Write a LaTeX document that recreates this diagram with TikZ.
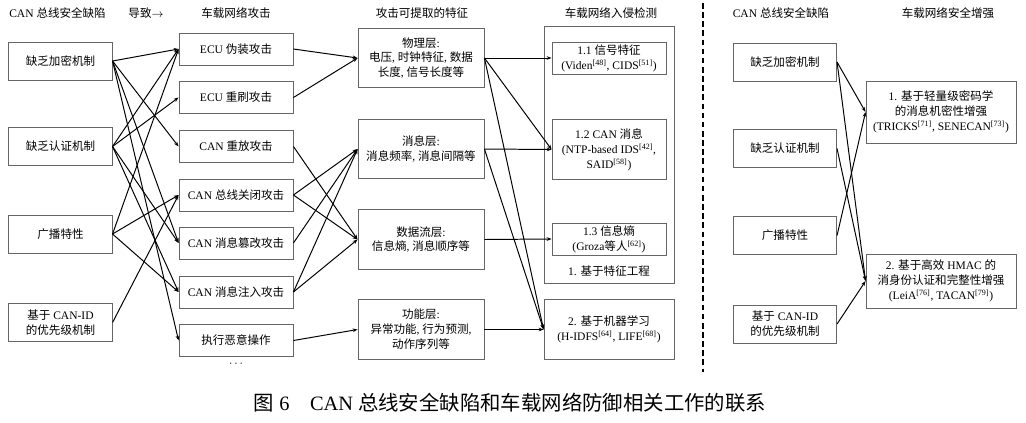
\documentclass[tikz,border=0pt]{standalone}
\usepackage{fontspec}
\setmainfont{Liberation Serif}
\newfontfamily\cjkfont{Noto Sans CJK SC}
\usetikzlibrary{arrows.meta}

% Chinese characters switch to the CJK family by themselves
\newXeTeXintercharclass\CJKclass
\count255="4E00
\loop\XeTeXcharclass\count255=\CJKclass
\ifnum\count255<"9FFF \advance\count255 by 1 \repeat
\count255="3000
\loop\XeTeXcharclass\count255=\CJKclass
\ifnum\count255<"303F \advance\count255 by 1 \repeat
\XeTeXinterchartoks 0 \CJKclass = {\cjkfont}
\XeTeXinterchartoks 4095 \CJKclass = {\cjkfont}
\XeTeXinterchartoks \CJKclass 0 = {\rmfamily}
\XeTeXinterchartoks \CJKclass 4095 = {\rmfamily}
\XeTeXinterchartokenstate=1

\newcommand{\refno}[1]{\textsuperscript{[#1]}}

\begin{document}
\begin{tikzpicture}[x=0.025cm,y=-0.025cm,
            font=\fontsize{8.2}{10.6}\selectfont,
            box/.style={rectangle,draw=black!60,line width=0.6pt,
                    inner sep=1pt,align=center},
            defect/.style={box,minimum width=2.58cm,minimum height=0.95cm},
            attack/.style={box,minimum width=2.85cm,minimum height=0.8cm},
            feature/.style={box,minimum width=3.15cm,minimum height=1.48cm},
            ids/.style={box,minimum width=2.85cm,minimum height=0.8cm},
            enhance/.style={box,minimum width=3.75cm},
            head/.style={inner sep=0pt},
            link/.style={-{Stealth[length=3.5pt,width=2.6pt]},line width=0.7pt},
        ]
        \useasboundingbox (0,0) rectangle (1026,422);

        % Headers
        \node[head] (h1) at (57.5,13) {CAN 总线安全缺陷};
        \node[head] (h2) at (146,13) {导致$\rightarrow$};
        \node[head] (h3) at (236,13) {车载网络攻击};
        \node[head] (h4) at (422,13) {攻击可提取的特征};
        \node[head] (h5) at (611,13) {车载网络入侵检测};
        \node[head] (h6) at (781,13) {CAN 总线安全缺陷};
        \node[head] (h7) at (948,13) {车载网络安全增强};

        % CAN bus defects
        \node[defect] (enc) at (60.5,61) {缺乏加密机制};
        \node[defect] (auth) at (60.5,146.5) {缺乏认证机制};
        \node[defect] (bcast) at (60.5,234) {广播特性};
        \node[defect] (prio) at (60.5,322.5) {基于 CAN-ID\\的优先级机制};

        % Attacks
        \node[attack] (masq) at (236,49) {ECU 伪装攻击};
        \node[attack] (flash) at (236,97.5) {ECU 重刷攻击};
        \node[attack] (replay) at (236,146.5) {CAN 重放攻击};
        \node[attack] (busoff) at (236,195) {CAN 总线关闭攻击};
        \node[attack] (tamper) at (236,243) {CAN 消息篡改攻击};
        \node[attack] (inject) at (236,292) {CAN 消息注入攻击};
        \node[attack] (malop) at (236,340.5) {执行恶意操作};
        \node[head] (more) at (236,364) {$\cdots$};

        % Extractable features
        \node[feature] (phys) at (421,58) {物理层:\\电压, 时钟特征, 数据\\长度, 信号长度等};
        \node[feature] (msg) at (421,149) {消息层:\\消息频率, 消息间隔等};
        \node[feature] (flow) at (421,239.5) {数据流层:\\信息熵, 消息顺序等};
        \node[feature] (func) at (421,329.5) {功能层:\\异常功能, 行为预测,\\动作序列等};

        % Intrusion detection
        \draw[black!60,line width=0.6pt] (544,26) rectangle (674,283);
        \node[ids] (sig) at (609,58) {1.1 信号特征\\(Viden\refno{48}, CIDS\refno{51})};
        \node[ids,minimum height=1.48cm] (canmsg) at (609,149.5) {1.2 CAN 消息\\(NTP-based IDS\refno{42},\\SAID\refno{58})};
        \node[ids] (entropy) at (609,239) {1.3 信息熵\\(Groza等人\refno{62})};
        \node[head] (feng) at (609,271) {1. 基于特征工程};
        \node[box,minimum width=3.25cm,minimum height=1.48cm] (ml) at (609,329.5) {2. 基于机器学习\\(H-IDFS\refno{64}, LIFE\refno{68})};

        % Separator
        \draw[line width=1.3pt,dash pattern=on 4pt off 2.5pt] (703,3) -- (703,372);

        % Right part: defects and enhancements
        \node[defect] (renc) at (785,62) {缺乏加密机制};
        \node[defect] (rauth) at (785,148.5) {缺乏认证机制};
        \node[defect] (rbcast) at (785,235.5) {广播特性};
        \node[defect] (rprio) at (785,324) {基于 CAN-ID\\的优先级机制};
        \node[enhance,minimum height=1.55cm] (light) at (941,112) {1. 基于轻量级密码学\\的消息机密性增强\\(TRICKS\refno{71}, SENECAN\refno{73})};
        \node[enhance,minimum height=1.35cm] (hmac) at (941,281) {2. 基于高效 HMAC 的\\消身份认证和完整性增强\\(LeiA\refno{76}, TACAN\refno{79})};

        % Defects lead to attacks
        \foreach \s/\t in {enc/masq,enc/replay,enc/tamper,enc/malop,
                auth/masq,auth/flash,auth/tamper,auth/inject,
                bcast/masq,bcast/busoff,bcast/inject,prio/busoff}
            \draw[link] (\s.east) -- (\t.west);

        % Attacks give features
        \foreach \s/\t in {masq/phys,flash/phys,replay/flow,busoff/msg,busoff/flow,
                tamper/msg,inject/msg,inject/flow,malop/func}
            \draw[link] (\s.east) -- (\t.west);

        % Features used by detection
        \foreach \s/\t in {phys/sig,phys/canmsg,phys/ml,msg/canmsg,msg/ml,
                flow/entropy,func/ml}
            \draw[link] (\s.east) -- (\t.west);

        % Defects met by enhancements
        \foreach \s/\t in {renc/light,renc/hmac,rauth/hmac,rbcast/light,rprio/hmac}
            \draw[link] (\s.east) -- (\t.west);

        % Caption
        \node[head,font=\fontsize{14.5}{17}\selectfont] (cap) at (510,403)
            {图 6\quad CAN 总线安全缺陷和车载网络防御相关工作的联系};

    \end{tikzpicture}
\end{document}
